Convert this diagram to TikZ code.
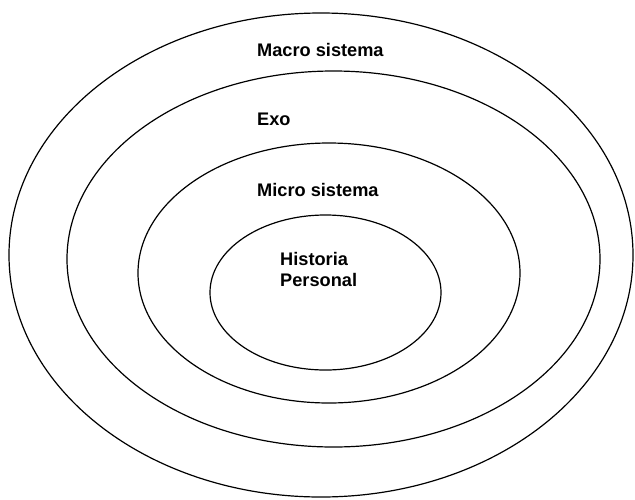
\documentclass[tikz,border=0pt]{standalone}
\usepackage{fontspec}
\setmainfont{Liberation Sans}
\usetikzlibrary{shapes.geometric}

\tikzset{
  ring/.style={ellipse, draw=black, line width=1.2pt, inner sep=0pt, outer sep=0pt},
  ringlabel/.style={anchor=base west, inner sep=0pt, align=left,
    font=\bfseries\fontsize{18.2}{21.7}\selectfont}
}

\begin{document}
\begin{tikzpicture}[x=1pt, y=-1pt]
  \useasboundingbox (0,0) rectangle (635,499);

  % nested system rings, outermost first
  \node[ring, minimum width=624pt, minimum height=484pt] (macro) at (321,255) {};
  \node[ring, minimum width=533pt, minimum height=376pt] (exo)   at (333.5,259) {};
  \node[ring, minimum width=382pt, minimum height=260pt] (micro) at (329,273) {};
  \node[ring, minimum width=231pt, minimum height=155pt] (core)  at (325.5,292.5) {};

  % ring names (base of a two-line label is its last line)
  \node[ringlabel] (macrolbl) at (257,56)    {Macro sistema};
  \node[ringlabel] (exolbl)   at (257,125)   {Exo};
  \node[ringlabel] (microlbl) at (257,196)   {Micro sistema};
  \node[ringlabel] (corelbl)  at (280,286.7) {Historia\\Personal};
\end{tikzpicture}
\end{document}
